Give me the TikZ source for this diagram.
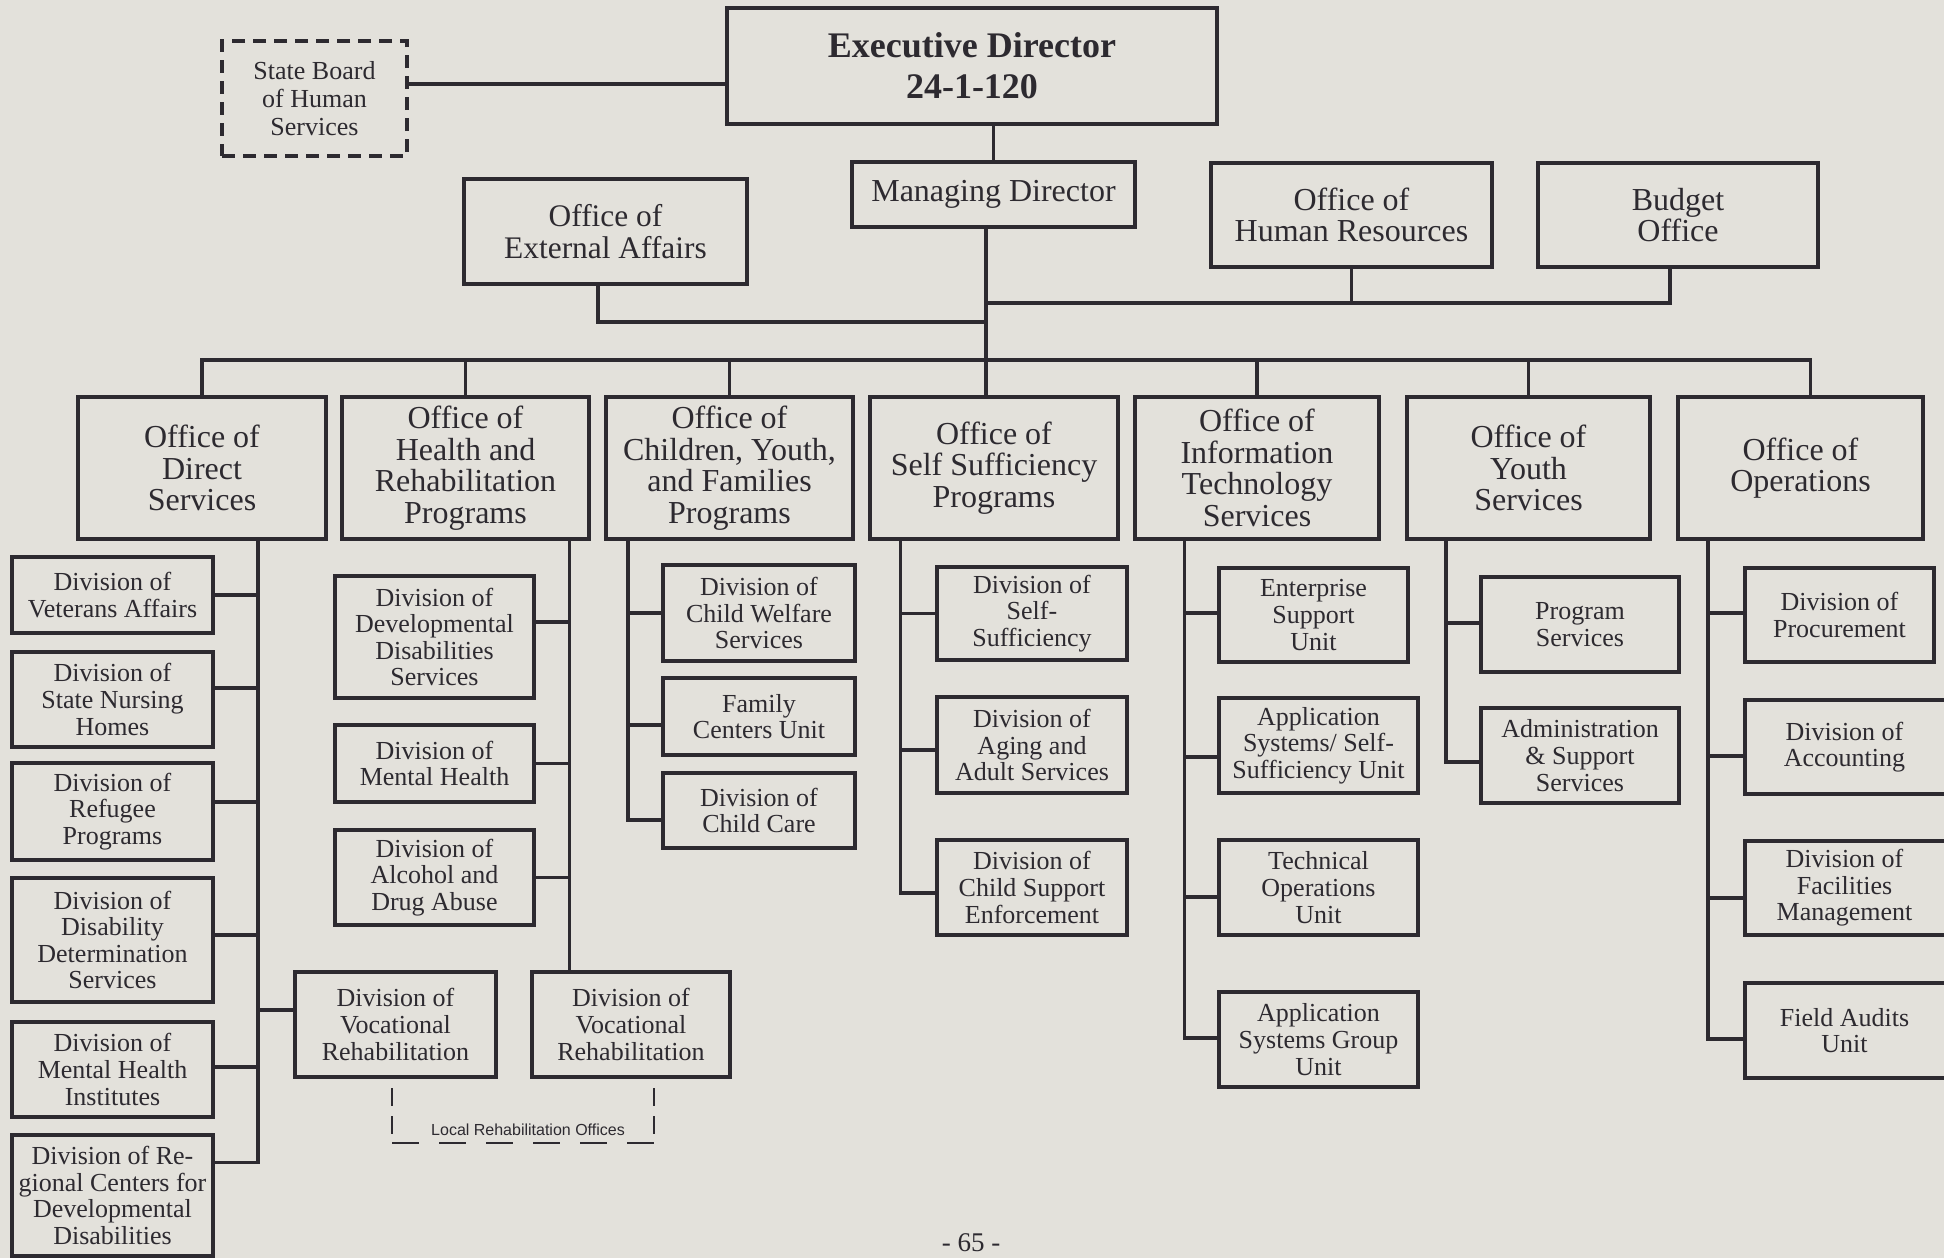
\documentclass[tikz,border=0pt]{standalone}
\usepackage{fontspec}
\setmainfont{Liberation Serif}
\newfontfamily\lrsans{Liberation Sans}
\definecolor{ink}{RGB}{45,42,48}
\definecolor{paper}{RGB}{227,225,219}
\tikzset{
  ln/.style={draw=ink, line width=3.4pt},
  bx/.style={draw=ink, line width=3.4pt, inner sep=0pt, outer sep=0pt, align=center, text=ink},
  dv/.style={bx, font=\fontsize{26}{26.6}\selectfont},
  dvopen/.style={dv, draw=none},
  of/.style={bx, font=\fontsize{32}{31.5}\selectfont},
  ofx/.style={bx, font=\fontsize{31.4}{32}\selectfont},
  exe/.style={bx, font=\fontsize{36}{41}\selectfont\bfseries},
  sbd/.style={bx, dash pattern=on 13pt off 8pt, font=\fontsize{26}{28}\selectfont},
  lrv/.style={draw=ink, line width=2pt, dash pattern=on 18pt off 10pt},
  lrh/.style={draw=ink, line width=2pt, dash pattern=on 27pt off 20pt},
  lrtext/.style={text=ink, inner sep=0pt, font=\lrsans\fontsize{16}{18}\selectfont},
}
% #1 style, #2 name, #3 x1, #4 y1, #5 x2, #6 y2, #7 text
\newcommand\mkbox[7][dv]{%
  \node[#1, minimum width={#5-#3}, minimum height={#6-#4}] (#2) at ({(#3+#5)/2},{(#4+#6)/2}) {#7};}
\begin{document}
\begin{tikzpicture}[x=1pt,y=-1pt]
\fill[paper] (0,0) rectangle (1944,1258);
\useasboundingbox (0,0) rectangle (1944,1258);

% top level
\mkbox[exe]{exec}{727}{8}{1217}{124}{Executive Director\\24-1-120}
\mkbox[sbd]{sb}{222}{41}{407}{156}{State Board\\of Human\\Services}
\mkbox[of]{md}{852}{162}{1135}{227}{Managing Director}
\mkbox[ofx]{ea}{464}{179}{747}{284}{Office of\\External Affairs}
\mkbox[of]{hr}{1211}{163}{1492}{267}{Office of\\Human Resources}
\mkbox[of]{bo}{1538}{163}{1818}{267}{Budget\\Office}

% offices
\mkbox[of]{ds}{78}{397}{326}{539}{Office of\\Direct\\Services}
\mkbox[of]{hrp}{342}{397}{589}{539}{Office of\\Health and\\Rehabilitation\\Programs}
\mkbox[of]{cyf}{606}{397}{853}{539}{Office of\\Children, Youth,\\and Families\\Programs}
\mkbox[of]{ssp}{870}{397}{1118}{539}{Office of\\Self Sufficiency\\Programs}
\mkbox[of]{its}{1135}{397}{1379}{539}{Office of\\Information\\Technology\\Services}
\mkbox[of]{ys}{1407}{397}{1650}{539}{Office of\\Youth\\Services}
\mkbox[of]{ops}{1678}{397}{1923}{539}{Office of\\Operations}

% direct services divisions
\mkbox{vet}{12}{557}{213}{633}{Division of\\Veterans Affairs}
\mkbox{snh}{12}{652}{213}{747}{Division of\\State Nursing\\Homes}
\mkbox{rp}{12}{763}{213}{860}{Division of\\Refugee\\Programs}
\mkbox{dds}{12}{878}{213}{1002}{Division of\\Disability\\Determination\\Services}
\mkbox{mhi}{12}{1022}{213}{1117}{Division of\\Mental Health\\Institutes}
\mkbox{rc}{12}{1135}{213}{1256}{Division of Re-\\gional Centers for\\Developmental\\Disabilities}

% health and rehabilitation divisions
\mkbox{dd}{335}{576}{534}{698}{Division of\\Developmental\\Disabilities\\Services}
\mkbox{mh}{335}{725}{534}{802}{Division of\\Mental Health}
\mkbox{ada}{335}{830}{534}{925}{Division of\\Alcohol and\\Drug Abuse}
\mkbox{vr1}{295}{972}{496}{1077}{Division of\\Vocational\\Rehabilitation}
\mkbox{vr2}{532}{972}{730}{1077}{Division of\\Vocational\\Rehabilitation}

% children youth families
\mkbox{cw}{663}{565}{855}{661}{Division of\\Child Welfare\\Services}
\mkbox{fc}{663}{678}{855}{755}{Family\\Centers Unit}
\mkbox{cc}{663}{773}{855}{848}{Division of\\Child Care}

% self sufficiency
\mkbox{dss}{937}{567}{1127}{660}{Division of\\Self-\\Sufficiency}
\mkbox{aas}{937}{697}{1127}{793}{Division of\\Aging and\\Adult Services}
\mkbox{cse}{937}{840}{1127}{935}{Division of\\Child Support\\Enforcement}

% information technology
\mkbox{esu}{1219}{568}{1408}{662}{Enterprise\\Support\\Unit}
\mkbox{asu}{1219}{698}{1418}{793}{Application\\Systems/ Self-\\Sufficiency Unit}
\mkbox{tou}{1219}{840}{1418}{935}{Technical\\Operations\\Unit}
\mkbox{asg}{1219}{992}{1418}{1087}{Application\\Systems Group\\Unit}

% youth services
\mkbox{ps}{1481}{577}{1679}{672}{Program\\Services}
\mkbox{ass}{1481}{708}{1679}{803}{Administration\\\& Support\\Services}

% operations
\mkbox{proc}{1745}{568}{1934}{662}{Division of\\Procurement}
\mkbox[dvopen]{acc}{1745}{700}{1944}{794}{Division of\\Accounting}
\mkbox[dvopen]{fac}{1745}{841}{1944}{935}{Division of\\Facilities\\Management}
\mkbox[dvopen]{fa}{1745}{983}{1944}{1078}{Field Audits\\Unit}
\foreach \b in {acc,fac,fa}{
  \draw[ln] ([xshift=12pt]\b.north east) -- (\b.north west) -- (\b.south west) -- ([xshift=12pt]\b.south east);
}

% top connectors
\draw[ln] ([yshift=14.5pt]sb.east) -- ([yshift=14.5pt]sb.east -| exec.west);
\draw[ln] (exec.south -| md.north) -- (md.north);
\coordinate (tx) at (986,0);
\draw[ln] (md.south -| tx) -- (ssp.north -| tx);
\coordinate (eax) at (598,322);
\draw[ln] (ea.south -| eax) |- (eax -| tx);
\coordinate (hby) at (0,303);
\draw[ln] (hr.south) -- (hr.south |- hby);
\draw[ln] (hby -| tx) -- ([xshift=-8pt]bo.south |- hby) -- ([xshift=-8pt]bo.south);

% office bus
\coordinate (busy) at (0,360);
\draw[ln] (ds.north) -- (ds.north |- busy) -- ([xshift=10pt]ops.north |- busy) -- ([xshift=10pt]ops.north);
\foreach \o in {hrp,cyf,its,ys}{ \draw[ln] (\o.north |- busy) -- (\o.north); }

% direct services column
\coordinate (cdx) at (258,0);
\draw[ln] (ds.south -| cdx) -- ([yshift=33pt]rc.east -| cdx) -- ([yshift=33pt]rc.east);
\draw[ln] (vet.east) -- (vet.east -| cdx);
\draw[ln] ([yshift=11.5pt]snh.east) -- ([yshift=11.5pt]snh.east -| cdx);
\draw[ln] ([yshift=9.5pt]rp.east) -- ([yshift=9.5pt]rp.east -| cdx);
\draw[ln] ([yshift=5pt]dds.east) -- ([yshift=5pt]dds.east -| cdx);
\draw[ln] ([yshift=2.5pt]mhi.east) -- ([yshift=2.5pt]mhi.east -| cdx);
\draw[ln] ([yshift=14.5pt]vr1.west -| cdx) -- ([yshift=14.5pt]vr1.west);

% health column
\coordinate (chx) at (569.5,0);
\draw[ln] (hrp.south -| chx) -- (vr2.north -| chx);
\draw[ln] ([yshift=15pt]dd.east -| chx) -- ([yshift=15pt]dd.east);
\draw[ln] (mh.east -| chx) -- (mh.east);
\draw[ln] (ada.east -| chx) -- (ada.east);

% children column
\coordinate (ccx) at (628,0);
\draw[ln] (cyf.south -| ccx) -- ([yshift=-9.5pt]cc.west -| ccx) -- ([yshift=-9.5pt]cc.west);
\draw[ln] (cw.west -| ccx) -- (cw.west);
\draw[ln] ([yshift=-8.5pt]fc.west -| ccx) -- ([yshift=-8.5pt]fc.west);

% self sufficiency column
\coordinate (csx) at (900.5,0);
\draw[ln] (ssp.south -| csx) -- ([yshift=-5.5pt]cse.west -| csx) -- ([yshift=-5.5pt]cse.west);
\draw[ln] (dss.west -| csx) -- (dss.west);
\draw[ln] ([yshift=-5pt]aas.west -| csx) -- ([yshift=-5pt]aas.west);

% information technology column
\coordinate (cix) at (1184.5,0);
\draw[ln] (its.south -| cix) -- ([yshift=1.5pt]asg.west -| cix) -- ([yshift=1.5pt]asg.west);
\draw[ln] ([yshift=2pt]esu.west -| cix) -- ([yshift=2pt]esu.west);
\draw[ln] ([yshift=-11.5pt]asu.west -| cix) -- ([yshift=-11.5pt]asu.west);
\draw[ln] ([yshift=-9.5pt]tou.west -| cix) -- ([yshift=-9.5pt]tou.west);

% youth column
\coordinate (cyx) at (1446,0);
\draw[ln] (ys.south -| cyx) -- ([yshift=-6.5pt]ass.west -| cyx) -- ([yshift=-6.5pt]ass.west);
\draw[ln] ([yshift=1.5pt]ps.west -| cyx) -- ([yshift=1.5pt]ps.west);

% operations column
\coordinate (cox) at (1708,0);
\draw[ln] (ops.south -| cox) -- ([yshift=-8.5pt]fa.west -| cox) -- ([yshift=-8.5pt]fa.west);
\draw[ln] ([yshift=2pt]proc.west -| cox) -- ([yshift=2pt]proc.west);
\draw[ln] ([yshift=-9pt]acc.west -| cox) -- ([yshift=-9pt]acc.west);
\draw[ln] ([yshift=-10pt]fac.west -| cox) -- ([yshift=-10pt]fac.west);

% local rehabilitation offices
\coordinate (lrl) at (392,1143);
\coordinate (lrr) at (654,1143);
\draw[lrv] ([yshift=-11pt]vr1.south -| lrl) -- (lrl);
\draw[lrh] (lrl) -- (lrr);
\draw[lrv] ([yshift=-11pt]vr2.south -| lrr) -- (lrr);
\node[lrtext, anchor=base] (lrt) at (528,1135) {Local Rehabilitation Offices};

% page number
\node[text=ink, inner sep=0pt, anchor=base, font=\fontsize{27}{30}\selectfont] (pg) at (971,1251) {- 65 -};
\end{tikzpicture}
\end{document}
